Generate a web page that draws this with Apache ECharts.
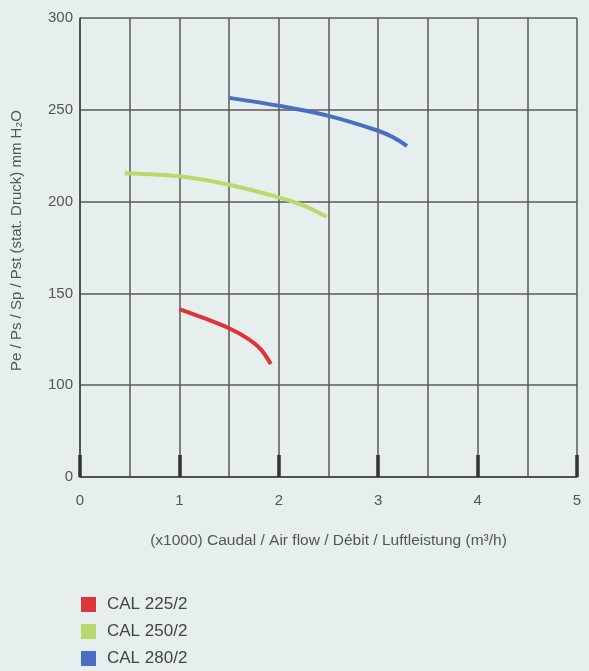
<!DOCTYPE html>
<html>
<head>
<meta charset="utf-8">
<script src="https://cdn.jsdelivr.net/npm/echarts@6/dist/echarts.min.js"></script>
<style>
html, body { margin: 0; padding: 0; background: #e6eeee; }
#chart { width: 589px; height: 671px; }
</style>
</head>
<body>
<div id="chart"></div>
<script>
// curve readings: x in thousands of m3/h, y in mm H2O
var redX = [1.0, 1.25, 1.5, 1.7, 1.82, 1.92];
var redY = [141.5, 136.5, 131, 125, 119.5, 111.5];
var greenX = [0.45, 1.0, 1.5, 2.0, 2.25, 2.48];
var greenY = [215.5, 213.8, 209.2, 202.3, 197.8, 191.8];
var blueX = [1.5, 2.0, 2.5, 3.0, 3.15, 3.29];
var blueY = [256.5, 252.2, 246.7, 238.6, 235, 230.3];

var seriesNames = ['CAL 225/2', 'CAL 250/2', 'CAL 280/2'];
var seriesColors = ['#dd3538', '#b9da6b', '#4a6fc2'];

// y axis is broken: bottom step runs 0..100, shown here as 50..100
var yTicks = [50, 100, 150, 200, 250, 300];
var yTickLabels = ['0', '100', '150', '200', '250', '300'];

function pairs(xs, ys) {
	var out = [];
	for (let i = 0; i < xs.length; i++) {
		out.push([xs[i], ys[i]]);
	}
	return out;
}

function curve(i, xs, ys) {
  return {
    name: seriesNames[i],
    type: 'line',
    smooth: 0.3,
    showSymbol: false,
    itemStyle: { color: seriesColors[i] },
    lineStyle: { color: seriesColors[i], width: 4 },
    data: pairs(xs, ys)
  };
}

var chartDom = document.getElementById('chart');
var myChart = echarts.init(chartDom);
var gridLine = { color: '#5a5a5a', width: 1.5 };
var textCol = '#555';
var font = 'Liberation Sans';

var option = {
  backgroundColor: '#e6eeee',
  animation: false,
  textStyle: { fontFamily: font },
  grid: { left: 80, right: 12, top: 18, bottom: 194, containLabel: false },
  legend: {
    orient: 'vertical',
    left: 81,
    top: 596,
    height: 90,
    padding: 0,
    icon: 'rect',
    itemWidth: 15,
    itemHeight: 15,
    itemGap: 10,
    textStyle: { color: '#444', fontSize: 17, fontFamily: font, padding: [0, 0, 0, 6] },
    data: seriesNames
  },
  xAxis: {
    type: 'value',
    min: 0,
    max: 5,
    interval: 1,
    name: '(x1000) Caudal / Air flow / Débit / Luftleistung (m³/h)',
    nameLocation: 'middle',
    nameGap: 56,
    nameTextStyle: { color: textCol, fontSize: 15.5, fontFamily: font },
    axisLine: { show: true, lineStyle: { color: '#444', width: 1.5 } },
    axisTick: { show: true, inside: true, length: 22, lineStyle: { color: '#333', width: 3.5 } },
    axisLabel: { color: textCol, fontSize: 15, margin: 16 },
    splitLine: { show: true, lineStyle: gridLine },
    minorTick: { show: false, splitNumber: 2 },
    minorSplitLine: { show: true, lineStyle: gridLine }
  },
  yAxis: {
    type: 'value',
    min: 50,
    max: 300,
    interval: 50,
    name: 'Pe / Ps / Sp / Pst (stat. Druck) mm H₂O',
    nameLocation: 'middle',
    nameRotate: 90,
    nameGap: 56,
    nameTextStyle: { color: textCol, fontSize: 15, fontFamily: font, padding: [0, 0, 0, 14] },
    axisLine: { show: true, lineStyle: { color: '#444', width: 1.5 } },
    axisTick: { show: false },
    axisLabel: {
      color: textCol,
      fontSize: 15,
      margin: 7,
      formatter: function (v) {
        var k = yTicks.indexOf(v);
        return k >= 0 ? yTickLabels[k] : '';
      }
    },
    splitLine: { show: true, lineStyle: gridLine }
  },
  series: [
    curve(0, redX, redY),
    curve(1, greenX, greenY),
    curve(2, blueX, blueY)
  ]
};
myChart.setOption(option);
</script>
</body>
</html>
